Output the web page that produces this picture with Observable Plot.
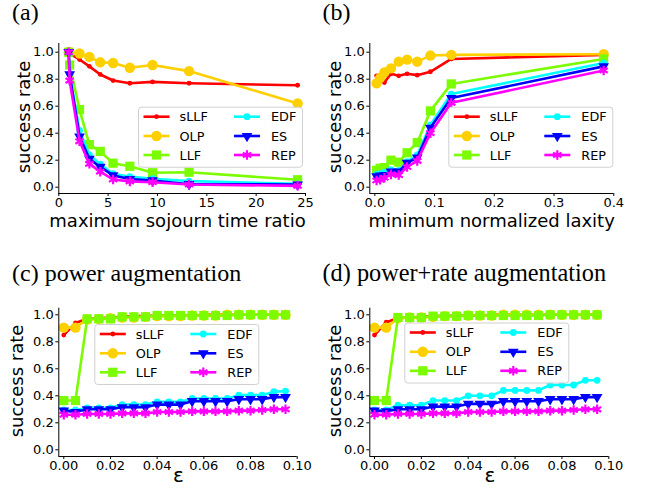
<!DOCTYPE html>
<html><head><meta charset="utf-8">
<script src="https://cdn.jsdelivr.net/npm/d3@7"></script>
<script src="https://cdn.jsdelivr.net/npm/@observablehq/plot@0.6"></script>
<style>
body{margin:0;background:#fff;}
#root{position:relative;width:645px;height:491px;overflow:hidden;font-family:"DejaVu Sans",sans-serif;background:#fff;}
</style></head><body><div id="root"></div>
<script>
// ---------- data ----------
const series = ["sLLF","OLP","LLF","EDF","ES","REP"];
const colors = {sLLF:"#ff0000", OLP:"#ffd000", LLF:"#7cfc00", EDF:"#00ffff", ES:"#0000ff", REP:"#ff00ff"};
const yTicks = [0, 0.2, 0.4, 0.6, 0.8, 1.0];
const xTicksA = [0, 5, 10, 15, 20, 25];
const xTicksB = [0, 0.1, 0.2, 0.3, 0.4];
const xTicksC = [0, 0.02, 0.04, 0.06, 0.08, 0.10];

// (a) maximum sojourn time ratio
const xA    = [1.0, 1.1, 2.1, 3.1, 4.2, 5.5, 7.2, 9.5, 13.2, 24.2];
const sllfA = [1.0, 0.99, 0.946, 0.895, 0.835, 0.79, 0.77, 0.78, 0.77, 0.755];
const olpA  = [1.0, 1.0, 0.99, 0.965, 0.925, 0.92, 0.885, 0.905, 0.86, 0.62];
const llfA  = [1.0, 0.905, 0.575, 0.315, 0.265, 0.178, 0.155, 0.107, 0.111, 0.055];
const edfA  = [1.0, 0.84, 0.42, 0.24, 0.17, 0.10, 0.078, 0.063, 0.045, 0.025];
const esA   = [1.0, 0.835, 0.375, 0.21, 0.15, 0.087, 0.06, 0.05, 0.022, 0.02];
const repA  = [1.0, 0.79, 0.34, 0.173, 0.115, 0.057, 0.043, 0.037, 0.02, 0.01];

// (b) minimum normalized laxity
const xB    = [0.003, 0.009, 0.016, 0.027, 0.040, 0.054, 0.071, 0.093, 0.128, 0.383];
const sllfB = [0.825, 0.83, 0.775, 0.84, 0.825, 0.84, 0.83, 0.855, 0.95, 0.98];
const olpB  = [0.77, 0.81, 0.85, 0.88, 0.93, 0.945, 0.93, 0.975, 0.98, 0.985];
const llfB  = [0.125, 0.14, 0.145, 0.2, 0.185, 0.255, 0.33, 0.565, 0.765, 0.95];
const edfB  = [0.095, 0.1, 0.11, 0.13, 0.125, 0.19, 0.24, 0.46, 0.69, 0.92];
const esB   = [0.08, 0.085, 0.09, 0.115, 0.115, 0.18, 0.22, 0.44, 0.66, 0.895];
const repB  = [0.05, 0.055, 0.07, 0.095, 0.09, 0.15, 0.195, 0.40, 0.625, 0.865];

// (c) power augmentation, (d) power+rate augmentation
const eps   = [0, 0.005, 0.01, 0.015, 0.02, 0.025, 0.03, 0.035, 0.04, 0.045, 0.05, 0.055, 0.06, 0.065, 0.07, 0.075, 0.08, 0.085, 0.09, 0.095];
const sllfC = [0.85, 0.94, 0.97, 0.975, 0.98, 0.985, 0.99, 0.99, 0.995, 0.995, 0.995, 0.995, 1.0, 1.0, 1.0, 1.0, 1.0, 1.0, 1.0, 1.0];
const olpC  = [0.905, 0.905, 0.965, 0.97, 0.975, 0.98, 0.98, 0.985, 0.99, 0.99, 0.99, 0.995, 0.995, 0.995, 1.0, 1.0, 1.0, 1.0, 1.0, 1.0];
const llfC  = [0.365, 0.365, 0.97, 0.97, 0.97, 0.985, 0.985, 0.985, 0.995, 0.995, 0.995, 0.995, 0.995, 0.995, 0.995, 1.0, 1.0, 1.0, 1.0, 1.0];
const edfC  = [0.295, 0.295, 0.31, 0.31, 0.31, 0.335, 0.335, 0.335, 0.355, 0.355, 0.355, 0.38, 0.38, 0.38, 0.38, 0.405, 0.405, 0.405, 0.43, 0.435];
const esC   = [0.29, 0.28, 0.30, 0.30, 0.30, 0.315, 0.315, 0.315, 0.335, 0.335, 0.335, 0.36, 0.36, 0.36, 0.36, 0.375, 0.375, 0.375, 0.39, 0.39];
const repC  = [0.26, 0.26, 0.265, 0.265, 0.265, 0.27, 0.27, 0.27, 0.28, 0.28, 0.28, 0.285, 0.285, 0.285, 0.285, 0.29, 0.29, 0.295, 0.3, 0.3];

const sllfD = [0.85, 0.945, 0.975, 0.98, 0.985, 0.99, 0.99, 0.995, 0.995, 0.995, 1.0, 1.0, 1.0, 1.0, 1.0, 1.0, 1.0, 1.0, 1.0, 1.0];
const olpD  = [0.905, 0.905, 0.975, 0.98, 0.98, 0.985, 0.99, 0.99, 0.995, 0.995, 0.995, 1.0, 1.0, 1.0, 1.0, 1.0, 1.0, 1.0, 1.0, 1.0];
const llfD  = [0.365, 0.365, 0.98, 0.98, 0.98, 0.99, 0.99, 0.99, 0.995, 0.995, 0.995, 0.995, 0.995, 0.995, 0.995, 1.0, 1.0, 1.0, 1.0, 1.0];
const edfD  = [0.295, 0.295, 0.33, 0.33, 0.33, 0.365, 0.365, 0.365, 0.40, 0.40, 0.40, 0.44, 0.44, 0.44, 0.44, 0.48, 0.48, 0.48, 0.515, 0.515];
const esD   = [0.29, 0.285, 0.30, 0.30, 0.30, 0.32, 0.32, 0.32, 0.34, 0.34, 0.34, 0.36, 0.36, 0.36, 0.36, 0.375, 0.375, 0.375, 0.39, 0.39];
const repD  = [0.26, 0.26, 0.265, 0.265, 0.265, 0.27, 0.27, 0.27, 0.28, 0.28, 0.28, 0.285, 0.285, 0.285, 0.285, 0.29, 0.29, 0.295, 0.3, 0.3];

const titles = ["(a)", "(b)", "(c) power augmentation", "(d) power+rate augmentation"];
const xLabels = ["maximum sojourn time ratio", "minimum normalized laxity", "ε", "ε"];
const yLabel = "success rate";

// ---------- markers ----------
const triDown = {draw(ctx, size) {
  const y = -Math.sqrt(size / (Math.sqrt(3) * 3));
  ctx.moveTo(0, -2 * y);
  ctx.lineTo(-Math.sqrt(3) * y, y);
  ctx.lineTo(Math.sqrt(3) * y, y);
  ctx.closePath();
}};
function markerOpts(s) {
  const c = colors[s];
  switch (s) {
    case "sLLF": return {symbol: "circle", r: 2.4, fill: c, stroke: "none"};
    case "OLP": return {symbol: "circle", r: 5.2, fill: c, stroke: "none"};
    case "LLF": return {symbol: "square", r: 5.2, fill: c, stroke: "none"};
    case "EDF": return {symbol: "circle", r: 3.4, fill: c, stroke: "none"};
    case "ES": return {symbol: triDown, r: 4.0, fill: c, stroke: "none"};
    case "REP": return {symbol: "asterisk", r: 4.5, fill: "none", stroke: c, strokeWidth: 2.2};
  }
}
const d3sym = {circle: d3.symbolCircle, square: d3.symbolSquare, asterisk: d3.symbolAsterisk};

const root = document.getElementById("root");

function panel(cfg) {
  const marks = [];
  series.forEach((s, i) => {
    const rows = cfg.x.map((x, j) => ({x, y: cfg.ys[i][j]}));
    marks.push(Plot.line(rows, {x: "x", y: "y", stroke: colors[s], strokeWidth: 2.6}));
    marks.push(Plot.dot(rows, {x: "x", y: "y", ...markerOpts(s)}));
  });
  marks.push(Plot.ruleX([cfg.xDomain[0]], {stroke: "#000", strokeWidth: 1}));
  marks.push(Plot.ruleY([cfg.yDomain[0]], {stroke: "#000", strokeWidth: 1}));
  marks.push(Plot.axisX({ticks: cfg.xTicks, tickFormat: cfg.xFmt, tickSize: 3, tickPadding: 1.5, label: null}));
  marks.push(Plot.axisY({ticks: yTicks, tickFormat: d => d.toFixed(1), tickSize: 3, tickPadding: 2, label: null}));
  const svg = Plot.plot({
    width: cfg.width, height: cfg.height,
    marginLeft: cfg.m[0], marginRight: cfg.m[1], marginTop: cfg.m[2], marginBottom: cfg.m[3],
    x: {domain: cfg.xDomain, label: null},
    y: {domain: cfg.yDomain, label: null},
    style: {fontFamily: "DejaVu Sans, sans-serif", fontSize: "13px", color: "#000", background: "transparent", overflow: "visible"},
    marks
  });
  svg.style.position = "absolute";
  svg.style.left = cfg.left + "px";
  svg.style.top = cfg.top + "px";
  root.appendChild(svg);
}

panel({left: 0, top: 30, width: 320, height: 215, m: [58.3, 15, 13, 52],
  x: xA, ys: [sllfA, olpA, llfA, edfA, esA, repA], xDomain: [0, 25], yDomain: [-0.0467, 1.0644],
  xTicks: xTicksA, xFmt: d => String(d)});
panel({left: 320, top: 30, width: 325, height: 215, m: [49.3, 31.7, 13, 52],
  x: xB, ys: [sllfB, olpB, llfB, edfB, esB, repB], xDomain: [-0.0084, 0.4], yDomain: [-0.0467, 1.0644],
  xTicks: xTicksB, xFmt: d => d.toFixed(1)});
panel({left: 0, top: 290, width: 320, height: 201, m: [58.3, 23.3, 17.7, 35],
  x: eps, ys: [sllfC, olpC, llfC, edfC, esC, repC], xDomain: [-0.00214, 0.1], yDomain: [-0.0496, 1.0489],
  xTicks: xTicksC, xFmt: d => d.toFixed(2)});
panel({left: 320, top: 290, width: 325, height: 201, m: [49.3, 36.7, 17.7, 35],
  x: eps, ys: [sllfD, olpD, llfD, edfD, esD, repD], xDomain: [-0.002, 0.1], yDomain: [-0.0496, 1.0489],
  xTicks: xTicksC, xFmt: d => d.toFixed(2)});

// ---------- overlay: titles, labels, legends ----------
const ov = d3.create("svg").attr("width", 645).attr("height", 491)
  .style("position", "absolute").style("left", "0px").style("top", "0px")
  .style("font-family", "DejaVu Sans, sans-serif");

const titlePos = [[12, 19.5], [322.5, 19.5], [12, 281], [322.5, 281]];
const titleSize = [24, 24, 24, 24.3];
titles.forEach((t, i) => ov.append("text").attr("x", titlePos[i][0]).attr("y", titlePos[i][1])
  .attr("font-family", "Liberation Serif, Times New Roman, serif").attr("font-size", titleSize[i]).text(t));

const xLabPos = [[177.5, 226.5], [491.7, 226.5], [178.3, 481.5], [490, 481.5]];
xLabels.forEach((t, i) => ov.append("text").attr("x", xLabPos[i][0]).attr("y", xLabPos[i][1])
  .attr("text-anchor", "middle").attr("font-size", i < 2 ? 18 : 20).text(t));

const yLabPos = [[30, 117], [340.7, 117], [22.7, 381], [340.7, 381]];
yLabPos.forEach(p => ov.append("text").attr("transform", `translate(${p[0]},${p[1]}) rotate(-90)`)
  .attr("text-anchor", "middle").attr("font-size", 18).text(yLabel));

const legends = [[138, 106.7], [448.3, 106.7], [94.3, 324], [404.3, 322.5]];
legends.forEach(([lx, ly]) => {
  const g = ov.append("g").attr("transform", `translate(${lx},${ly})`);
  g.append("rect").attr("x", 0.5).attr("y", 0.5).attr("width", 164).attr("height", 60).attr("rx", 3)
    .attr("fill", "rgba(255,255,255,0.85)").attr("stroke", "#d0d0d0").attr("stroke-width", 1);
  const rowsY = [10, 29.3, 48.3];
  series.forEach((s, i) => {
    const col = Math.floor(i / 3), row = i % 3;
    const x0 = col === 0 ? 5.5 : 96, x1 = x0 + 26, tx = col === 0 ? 41.5 : 133;
    const y = rowsY[row];
    g.append("line").attr("x1", x0).attr("x2", x1).attr("y1", y).attr("y2", y)
      .attr("stroke", colors[s]).attr("stroke-width", 2.6);
    const mo = markerOpts(s);
    const type = typeof mo.symbol === "string" ? d3sym[mo.symbol] : mo.symbol;
    g.append("path").attr("transform", `translate(${(x0 + x1) / 2},${y})`)
      .attr("d", d3.symbol(type, Math.PI * mo.r * mo.r)())
      .attr("fill", mo.fill).attr("stroke", mo.stroke).attr("stroke-width", mo.strokeWidth || 0);
    g.append("text").attr("x", tx).attr("y", y).attr("dy", "0.36em").attr("font-size", 12.8).text(s);
  });
});
root.appendChild(ov.node());
</script>
</body></html>
